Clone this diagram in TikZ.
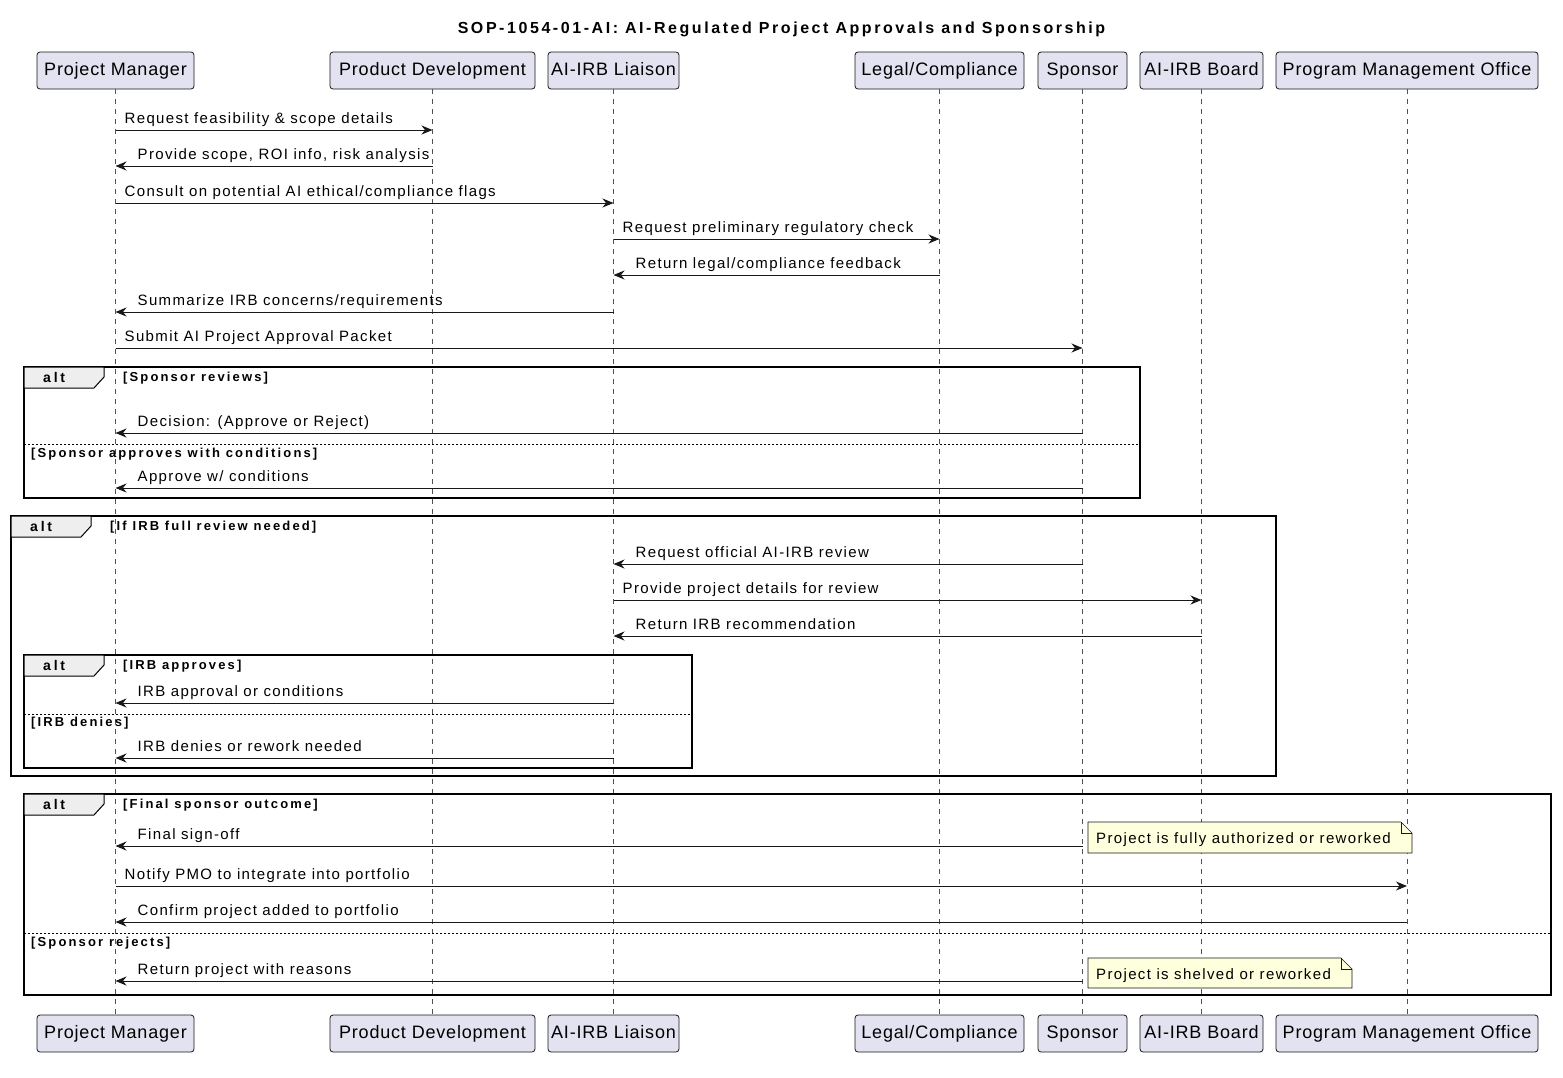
\documentclass[tikz,border=0pt]{standalone}
\usepackage{fontspec}
\setmainfont{Liberation Sans}
\newfontfamily\msgfont[LetterSpace=9]{Liberation Sans}
\newfontfamily\partfont[LetterSpace=4.5]{Liberation Sans}
\newfontfamily\guardfont[LetterSpace=16.5]{Liberation Sans}
\newfontfamily\altfont[LetterSpace=20]{Liberation Sans}
\newfontfamily\titlefont[LetterSpace=16]{Liberation Sans}
\usetikzlibrary{arrows.meta,calc}
\definecolor{partfill}{HTML}{E2E2F0}
\definecolor{ink}{HTML}{181818}
\definecolor{notefill}{HTML}{FEFFDD}
\definecolor{tabfill}{HTML}{EEEEEE}
\tikzset{
  part/.style={draw=ink, fill=partfill, rounded corners=3pt, line width=0.8pt, inner sep=0pt,
    text height=13pt, text depth=2.6pt, minimum height=37pt,
    font=\partfont\fontsize{18}{21}\selectfont},
  msg/.style={draw=ink, line width=1pt, -{Stealth[length=11pt,width=9pt,inset=3.5pt]}},
  lbl/.style={anchor=base west, inner sep=0pt, font=\msgfont\fontsize{15}{17}\selectfont, text=black},
  life/.style={draw=ink!75, dash pattern=on 5pt off 5pt, line width=0.8pt},
  frame/.style={draw=black, line width=1.5pt},
  tabst/.style={draw=black, fill=tabfill, line width=1pt},
  sepst/.style={draw=black, line width=1pt, dash pattern=on 2pt off 2pt},
  altlbl/.style={anchor=base west, inner sep=0pt, font=\altfont\bfseries\fontsize{14}{16}\selectfont},
  guard/.style={anchor=base west, inner sep=0pt, font=\guardfont\bfseries\fontsize{13}{15}\selectfont},
  notest/.style={draw=ink, fill=notefill, line width=0.7pt},
  notelbl/.style={anchor=base west, inner sep=0pt, font=\msgfont\fontsize{15}{17}\selectfont},
  titlest/.style={anchor=base, inner sep=0pt, font=\titlefont\bfseries\fontsize{16}{18}\selectfont}
}
\newcommand\msgR[4]{%
  \draw[msg] (#1 |- 0,#3) -- (#2 |- 0,#3);
  \node[lbl] at ($(#1 |- 0,#3)+(9,-6.7)$) {#4};}
\newcommand\msgL[4]{%
  \draw[msg] (#1 |- 0,#3) -- (#2 |- 0,#3);
  \node[lbl] at ($(#2 |- 0,#3)+(22,-6.7)$) {#4};}
\newcommand\altframe[4]{%
  \draw[frame] (#1,#2) rectangle (#3,#4);
  \draw[tabst] (#1,#2) -- (#1+80,#2) -- (#1+80,#2+10) -- (#1+70,#2+21) -- (#1,#2+21) -- cycle;
  \node[altlbl] at (#1+19,#2+15.5) {alt};}
\newcommand\notebox[5]{%
  \draw[notest] (#1,#2) -- (#3-11,#2) -- (#3,#2+11) -- (#3,#4) -- (#1,#4) -- cycle;
  \draw[notest, fill=none] (#3-11,#2) -- (#3-11,#2+11) -- (#3,#2+11);
  \node[notelbl] at (#1+8,#2+21) {#5};}
\begin{document}
\begin{tikzpicture}[x=1pt,y=-1pt]
\useasboundingbox (0,0) rectangle (1563,1077);
\fill[white] (0,0) rectangle (1563,1077);

\node[titlest] (title) at (781.5,33.5) {SOP-1054-01-AI: AI-Regulated Project Approvals and Sponsorship};

% participants top
\node[part, minimum width=157pt] (pmT) at (115.5,70.5) {Project Manager};
\node[part, minimum width=205pt] (pdT) at (432.5,70.5) {Product Development};
\node[part, minimum width=131pt] (liT) at (613.5,70.5) {AI-IRB Liaison};
\node[part, minimum width=169pt] (lcT) at (939.5,70.5) {Legal/Compliance};
\node[part, minimum width=89pt] (spT) at (1082.5,70.5) {Sponsor};
\node[part, minimum width=123pt] (bdT) at (1201.5,70.5) {AI-IRB Board};
\node[part, minimum width=262pt] (pmoT) at (1407,70.5) {Program Management Office};
% participants bottom
\node[part, minimum width=157pt] (pmB) at (115.5,1033.5) {Project Manager};
\node[part, minimum width=205pt] (pdB) at (432.5,1033.5) {Product Development};
\node[part, minimum width=131pt] (liB) at (613.5,1033.5) {AI-IRB Liaison};
\node[part, minimum width=169pt] (lcB) at (939.5,1033.5) {Legal/Compliance};
\node[part, minimum width=89pt] (spB) at (1082.5,1033.5) {Sponsor};
\node[part, minimum width=123pt] (bdB) at (1201.5,1033.5) {AI-IRB Board};
\node[part, minimum width=262pt] (pmoB) at (1407,1033.5) {Program Management Office};

% lifelines
\foreach \p in {pm,pd,li,lc,sp,bd,pmo}{
  \draw[life] (\p T.south) -- (\p B.north);
}

% messages
\msgR{pmT}{pdT}{130}{Request feasibility \& scope details}
\msgL{pdT}{pmT}{166}{Provide scope, ROI info, risk analysis}
\msgR{pmT}{liT}{203}{Consult on potential AI ethical/compliance flags}
\msgR{liT}{lcT}{239}{Request preliminary regulatory check}
\msgL{lcT}{liT}{275}{Return legal/compliance feedback}
\msgL{liT}{pmT}{312}{Summarize IRB concerns/requirements}
\msgR{pmT}{spT}{348}{Submit AI Project Approval Packet}

% alt 1
\altframe{24}{367}{1140}{498}
\node[guard] at (123,381.7) {[Sponsor reviews]};
\msgL{spT}{pmT}{433}{Decision: (Approve or Reject)}
\draw[sepst] (24,444) -- (1140,444);
\node[guard] at (31,457.5) {[Sponsor approves with conditions]};
\msgL{spT}{pmT}{488}{Approve w/ conditions}

% alt 2
\altframe{11}{516}{1276}{776}
\node[guard] at (110,530.7) {[If IRB full review needed]};
\msgL{spT}{liT}{564}{Request official AI-IRB review}
\msgR{liT}{bdT}{600}{Provide project details for review}
\msgL{bdT}{liT}{636}{Return IRB recommendation}
\altframe{24}{655}{692}{768}
\node[guard] at (123,669.7) {[IRB approves]};
\msgL{liT}{pmT}{703}{IRB approval or conditions}
\draw[sepst] (24,714) -- (692,714);
\node[guard] at (31,726.5) {[IRB denies]};
\msgL{liT}{pmT}{758}{IRB denies or rework needed}

% alt 3
\altframe{24}{794}{1551}{995}
\node[guard] at (123,808.7) {[Final sponsor outcome]};
\msgL{spT}{pmT}{846}{Final sign-off}
\notebox{1088}{822}{1412}{853}{Project is fully authorized or reworked}
\msgR{pmT}{pmoT}{886}{Notify PMO to integrate into portfolio}
\msgL{pmoT}{pmT}{922}{Confirm project added to portfolio}
\draw[sepst] (24,933) -- (1551,933);
\node[guard] at (31,946.5) {[Sponsor rejects]};
\msgL{spT}{pmT}{981}{Return project with reasons}
\notebox{1088}{958}{1352}{988}{Project is shelved or reworked}
\end{tikzpicture}
\end{document}
